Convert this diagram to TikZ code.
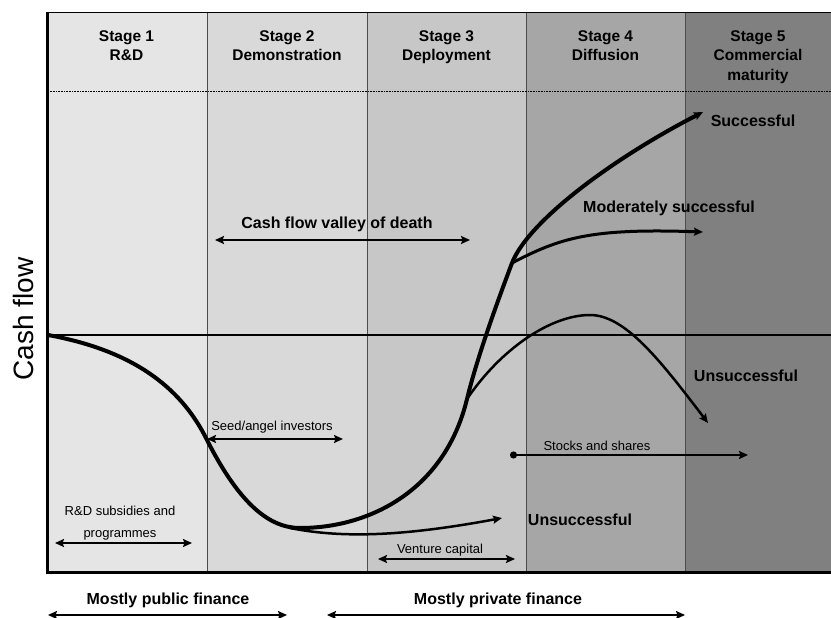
\documentclass[tikz,border=0pt]{standalone}
\usepackage{fontspec}
\setmainfont{Liberation Sans}
\usetikzlibrary{arrows.meta}
\usetikzlibrary{positioning}

\definecolor{stageA}{gray}{0.90}
\definecolor{stageB}{gray}{0.85}
\definecolor{stageC}{gray}{0.78}
\definecolor{stageD}{gray}{0.65}
\definecolor{stageE}{gray}{0.50}

\begin{document}
\begin{tikzpicture}[x=1pt,y=-1pt,>={Stealth[length=9pt,width=8pt,inset=1.5pt]},
	stagetext/.style={font=\bfseries\fontsize{15.5}{19.5}\selectfont, align=center, anchor=north, inner sep=0pt},
	outcome/.style={font=\bfseries\fontsize{16}{19}\selectfont, inner sep=0pt},
	small/.style={font=\fontsize{13}{22}\selectfont, align=center, inner sep=0pt},
	finance/.style={<->, line width=2pt},
	mainline/.style={line width=4pt, line cap=round},
	branch/.style={line width=2.5pt, line cap=round}]
	\useasboundingbox (0,0) rectangle (831,618);

	% stage columns
	\foreach \xa/\xb/\c in {46/207/stageA, 207/367/stageB, 367/526/stageC, 526/685/stageD, 685/831/stageE}
		\fill[\c] (\xa,12) rectangle (\xb,572);
	\foreach \x in {207,367,526,685}
		\draw[line width=0.8pt, black!70] (\x,12) -- (\x,572);
	\draw[line width=1pt, dash pattern=on 1pt off 0.6pt] (48,92) -- (831,92);
	\draw[line width=0.8pt] (46,12) -- (831,12);
	\draw[line width=2pt] (48,335) -- (831,335);
	\draw[line width=3pt] (47.5,12) -- (47.5,572) -- (831,572);

	\node[stagetext] (s1) at (126.5,30) {Stage 1\\R\&D};
	\node[stagetext] (s2) at (287,30) {Stage 2\\Demonstration};
	\node[stagetext] (s3) at (446.5,30) {Stage 3\\Deployment};
	\node[stagetext] (s4) at (605.5,30) {Stage 4\\Diffusion};
	\node[stagetext] (s5) at (758,30) {Stage 5\\Commercial\\maturity};

	\node[rotate=90, font=\fontsize{28}{30}\selectfont, inner sep=0pt] (ylabel) at (23,319) {Cash flow};

	% curves
	\coordinate (origin) at (48,335);
	\coordinate (drop) at (207,440);
	\coordinate (valley) at (300,528);
	\coordinate (fork) at (467,399);
	\coordinate (split) at (512,263);
	\coordinate (succ) at (703,112);
	\coordinate (mod) at (703,232);
	\coordinate (peak) at (590,315);
	\coordinate (late) at (708,423);
	\coordinate (low) at (290,528);
	\coordinate (early) at (502,518);

	\draw[branch, ->] (low) .. controls (340,538) and (400,537) .. (early);
	\draw[branch, ->] (fork) .. controls (500,350) and (550,315) .. (peak)
		.. controls (625,315) and (660,360) .. (late);
	\draw[line width=3pt, ->] (split) .. controls (560,238) and (590,228) .. (mod);
	\draw[mainline, ->] (origin) .. controls (130,350) and (180,385) .. (drop)
		.. controls (240,505) and (270,528) .. (valley)
		.. controls (370,528) and (445,490) .. (fork)
		.. controls (478,354) and (500,295) .. (split)
		.. controls (528,222) and (610,160) .. (succ);

	\node[outcome] (lsucc) at (753,121) {Successful};
	\node[outcome] (lmod) at (669,208) {Moderately successful};
	\node[outcome] (llate) at (746,376) {Unsuccessful};
	\node[outcome] (learly) at (580,520) {Unsuccessful};

	% finance arrows
	\node[outcome] (valleytext) at (337,224) {Cash flow valley of death};
	\draw[finance] (215,240) coordinate (v1) -- (470,240) coordinate (v2);
	\node[small] (seed) at (272,427) {Seed/angel investors};
	\draw[finance] (207,439) coordinate (a1) -- (343,439) coordinate (a2);
	\node[small, anchor=north] (rnd) at (120,506) {R\&D subsidies and\\programmes};
	\draw[finance] (55,543) coordinate (r1) -- (192,543) coordinate (r2);
	\node[small] (venture) at (440,550) {Venture capital};
	\draw[finance] (378,559) coordinate (c1) -- (515,559) coordinate (c2);
	\node[small] (stocks) at (597,446) {Stocks and shares};
	\draw[line width=2pt, {Circle[length=7pt]}->] (510,455) coordinate (k1) -- (748,455) coordinate (k2);

	\node[outcome] (public) at (168,600) {Mostly public finance};
	\draw[finance] (48,615) coordinate (p1) -- (287,615) coordinate (p2);
	\node[outcome] (private) at (498,600) {Mostly private finance};
	\draw[finance] (327,615) coordinate (q1) -- (685,615) coordinate (q2);
\end{tikzpicture}
\end{document}
